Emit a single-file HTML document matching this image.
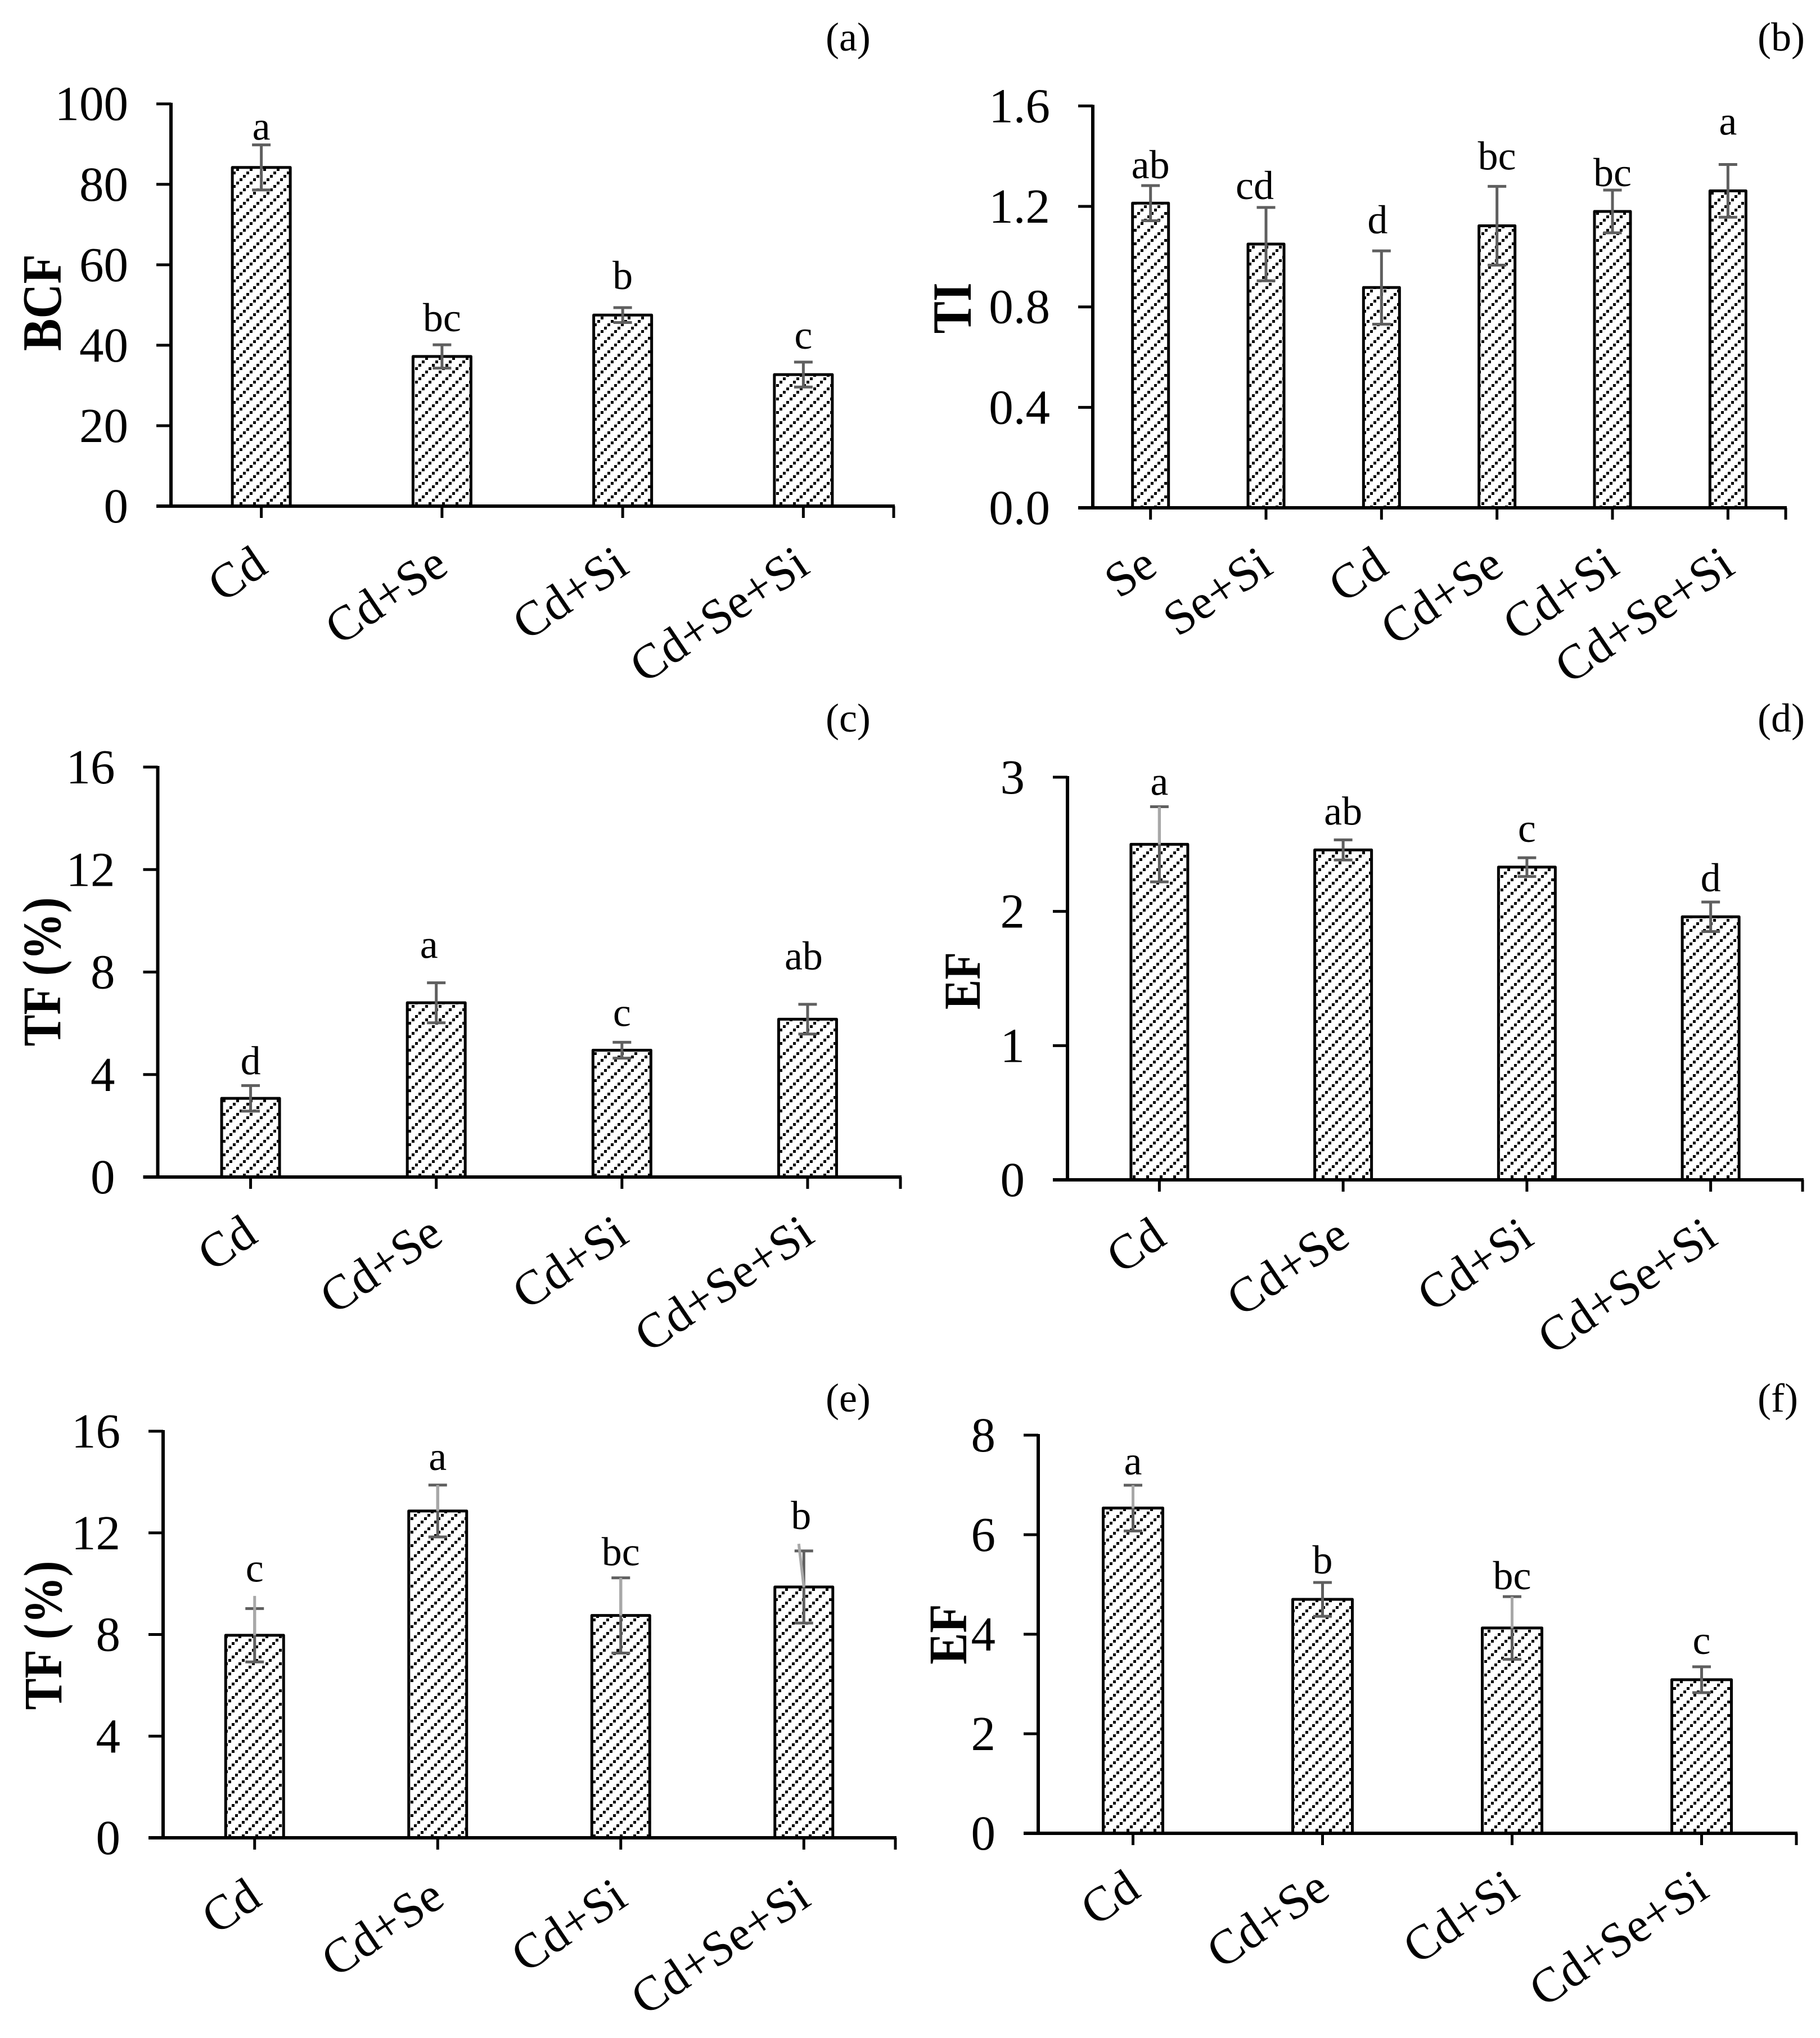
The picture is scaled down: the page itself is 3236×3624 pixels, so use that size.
<!DOCTYPE html>
<html lang="en">
<head>
<meta charset="utf-8">
<title>Cd accumulation indices</title>
<style>
html,body{margin:0;padding:0;background:#fff;}
svg{display:block;}
text{font-family:"Liberation Serif",serif;fill:#000;}
</style>
</head>
<body>
<svg id="figure" xmlns="http://www.w3.org/2000/svg" width="3236" height="3624" viewBox="0 0 3236 3624">
<defs id="defs"></defs>
</svg>
<script>
// Panel (a)
const aCategories = ['Cd','Cd+Se','Cd+Si','Cd+Se+Si'];
const aValues = [84.2,37.2,47.5,32.7];
const aErrors = [5.6,2.9,1.85,3.1];
const aLetters = ['a','bc','b','c'];
const aTicks = ['0','20','40','60','80','100'];
// Panel (b)
const bCategories = ['Se','Se+Si','Cd','Cd+Se','Cd+Si','Cd+Se+Si'];
const bValues = [1.213,1.05,0.877,1.123,1.18,1.262];
const bErrors = [0.07,0.146,0.146,0.157,0.085,0.105];
const bLetters = ['ab','cd','d','bc','bc','a'];
const bTicks = ['0.0','0.4','0.8','1.2','1.6'];
// Panel (c)
const cCategories = ['Cd','Cd+Se','Cd+Si','Cd+Se+Si'];
const cValues = [3.07,6.8,4.95,6.16];
const cErrors = [0.5,0.78,0.31,0.58];
const cLetters = ['d','a','c','ab'];
const cTicks = ['0','4','8','12','16'];
// Panel (d)
const dCategories = ['Cd','Cd+Se','Cd+Si','Cd+Se+Si'];
const dValues = [2.5,2.458,2.33,1.96];
const dErrors = [0.28,0.075,0.07,0.11];
const dLetters = ['a','ab','c','d'];
const dTicks = ['0','1','2','3'];
// Panel (e)
const eCategories = ['Cd','Cd+Se','Cd+Si','Cd+Se+Si'];
const eValues = [7.97,12.86,8.75,9.87];
const eErrors = [1.05,1.02,1.48,1.42];
const eLetters = ['c','a','bc','b'];
const eTicks = ['0','4','8','12','16'];
// Panel (f)
const fCategories = ['Cd','Cd+Se','Cd+Si','Cd+Se+Si'];
const fValues = [6.535,4.7,4.126,3.086];
const fErrors = [0.46,0.34,0.63,0.26];
const fLetters = ['a','b','bc','c'];
const fTicks = ['0','2','4','6','8'];

const NS = 'http://www.w3.org/2000/svg';
const svg = document.getElementById('figure');
const defs = document.getElementById('defs');

function make(tag, attrs, parent, txt){
  const n = document.createElementNS(NS, tag);
  for (const k in attrs) n.setAttribute(k, attrs[k]);
  if (txt !== undefined) n.textContent = txt;
  parent.appendChild(n);
  return n;
}

function makeHatch(id, tx, ty){
  const p = make('pattern', {id: 'hatch-' + id, patternUnits: 'userSpaceOnUse', width: 24, height: 24, patternTransform: 'translate(' + tx + ' ' + ty + ')'}, defs);
  for (let k = 0; k < 4; k++){
    make('rect', {x: k * 6, y: 18 - k * 6, width: 5, height: 5, fill: '#000'}, p);
  }
}

function drawPanel(id, categories, values, errors, letters, ticks, L){
  makeHatch(id, L.hatchX, L.hatchY);
  const g = make('g', {}, svg);
  
  

  const yMax = parseFloat(ticks[ticks.length - 1]);
  const yScale = v => L.y0 - (v / yMax) * (L.y0 - L.y1);
  const band = (L.x1 - L.x0) / categories.length;
  const xScale = i => L.x0 + band * (i + 0.5);

  // panel tag
  let el = make('text', {x: L.tagX, y: L.tagY, 'font-size': 72}, g, '(' + id + ')');
  
  

  // y title
  el = make('text', {transform: 'translate(' + L.titleX + ' ' + L.titleY + ') rotate(-90) scale(1 1.15)', 'text-anchor': 'middle', 'font-weight': 'bold', 'font-size': L.titleSize}, g, L.title);
  
  

  // y ticks & labels
  ticks.forEach(function(t){
    const y = yScale(parseFloat(t));
    const tk = make('line', {x1: L.x0 - 26, x2: L.x0, y1: y, y2: y, stroke: '#000', 'stroke-width': 5}, g);
    
    
    const lb = make('text', {x: L.x0 - 76, y: y + 29, 'text-anchor': 'end', 'font-size': 87}, g, t);
    
    
  });

  // bars
  categories.forEach(function(c, i){
    const x = xScale(i), top = yScale(values[i]), w = L.barW;
    const bar = make('rect', {x: x - w / 2, y: top, width: w, height: L.y0 - top, fill: '#fff', stroke: 'none'}, g);
    
    
    const bar2 = make('rect', {x: x - w / 2, y: top, width: w, height: L.y0 - top, fill: 'url(#hatch-' + id + ')', stroke: '#000', 'stroke-width': 5, 'stroke-linejoin': 'round'}, g);
    
    
  });

  // axes
  el = make('line', {x1: L.x0, x2: L.x0, y1: L.y1 - 2, y2: L.y0, stroke: '#000', 'stroke-width': 6}, g);
  
  
  el = make('line', {x1: L.x0 - 26, x2: L.x1 + 2, y1: L.y0, y2: L.y0, stroke: '#000', 'stroke-width': 6}, g);
  
  
  for (let i = 0; i <= categories.length; i++){
    const tx = i === categories.length ? L.x1 : xScale(i);
    const t = make('line', {x1: tx, x2: tx, y1: L.y0, y2: L.y0 + 21, stroke: '#000', 'stroke-width': 5}, g);
    
    
  }

  // error bars, letters, category labels
  categories.forEach(function(c, i){
    const x = xScale(i);
    const hi = yScale(values[i] + errors[i]), lo = yScale(values[i] - errors[i]), mid = yScale(values[i]);
    const eb = make('path', {d: 'M' + x + ' ' + hi + 'V' + lo + 'M' + (x - 16.5) + ' ' + hi + 'H' + (x + 16.5) + 'M' + (x - 16.5) + ' ' + lo + 'H' + (x + 16.5), fill: 'none', stroke: '#5f5f5f', 'stroke-width': 5}, g);
    
    
    if (L.light && L.light[i]){
      const over = (L.over && L.over[i]) || 0, lean = (L.lean && L.lean[i]) || 0;
      const ln = make('line', {x1: x + lean, y1: yScale(values[i] + errors[i] + over), x2: x, y2: mid, stroke: '#a8a8a8', 'stroke-width': 5}, g);
      
      
    }
    const lx = x + ((L.letterDx && L.letterDx[i]) || 0);
    const lt = make('text', {x: lx, y: hi - L.lift[i], 'text-anchor': 'middle', 'font-size': 72}, g, letters[i]);
    
    
    const cl = make('text', {transform: 'translate(' + (x + L.catDx) + ' ' + L.catY + ') rotate(-34)', 'text-anchor': 'end', 'font-size': 87}, g, c);
    
    
  });
}

drawPanel('a', aCategories, aValues, aErrors, aLetters, aTicks, {
  x0:304, x1:1589, y0:900, y1:184.7, barW:103, tagX:1468, tagY:90, hatchX:18, hatchY:11,
  title:'BCF', titleX:108, titleY:538, titleSize:86, catDx:15, catY:1016,
  lift:[9,24,33,24]
});
drawPanel('b', bCategories, bValues, bErrors, bLetters, bTicks, {
  x0:1943, x1:3175, y0:903, y1:188.4, barW:64, tagX:3125, tagY:90, hatchX:18, hatchY:11,
  title:'TI', titleX:1726, titleY:548, titleSize:86, catDx:16, catY:1017,
  lift:[13,15,31,30,7,53], letterDx:[0,-20,-7,0,0,0]
});
drawPanel('c', cCategories, cValues, cErrors, cLetters, cTicks, {
  x0:280.5, x1:1601, y0:2093, y1:1364, barW:103, tagX:1468, tagY:1301, hatchX:18, hatchY:11,
  title:'TF (%)', titleX:107, titleY:1728, titleSize:84, catDx:16, catY:2206,
  lift:[20,44,29,62], letterDx:[0,-13,0,-7]
});
drawPanel('d', dCategories, dValues, dErrors, dLetters, dTicks, {
  x0:1898, x1:3205, y0:2098, y1:1382, barW:101, tagX:3125, tagY:1301, hatchX:16, hatchY:14,
  title:'EF', titleX:1742, titleY:1744, titleSize:80, catDx:16, catY:2210,
  lift:[21,27,28,19], light:[1,0,0,0]
});
drawPanel('e', eCategories, eValues, eErrors, eLetters, eTicks, {
  x0:290, x1:1592, y0:3268, y1:2545, barW:103, tagX:1468, tagY:2510, hatchX:10, hatchY:16,
  title:'TF (%)', titleX:109, titleY:2908, titleSize:84, catDx:16, catY:3385,
  lift:[48,27,22,39], light:[1,1,1,1], over:[0.5,0,0,0.28], lean:[0,0,0,-9], letterDx:[0,0,0,-5]
});
drawPanel('f', fCategories, fValues, fErrors, fLetters, fTicks, {
  x0:1846, x1:3194, y0:3260, y1:2552, barW:106, tagX:3125, tagY:2510, hatchX:23, hatchY:6,
  title:'EF', titleX:1718, titleY:2906, titleSize:84, catDx:17, catY:3370,
  lift:[19,16,13,23], light:[1,0,1,0]
});
</script>
</body>
</html>
